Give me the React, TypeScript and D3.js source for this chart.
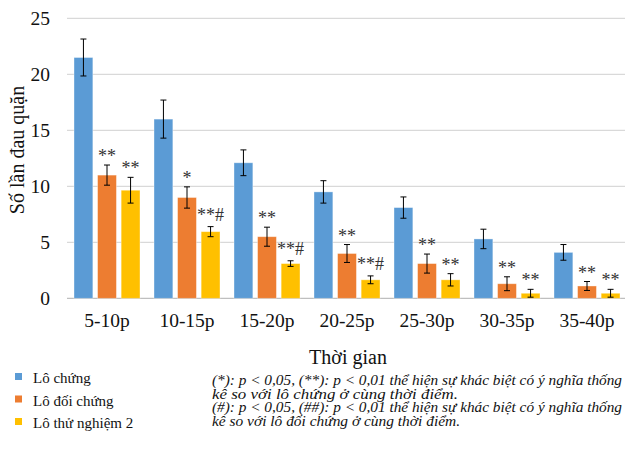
import React, { useEffect, useRef } from 'react';
import * as d3 from 'd3';

const categories = ['5-10p', '10-15p', '15-20p', '20-25p', '25-30p', '30-35p', '35-40p'];
const seriesNames = ['Lô chứng', 'Lô đối chứng', 'Lô thử nghiệm 2'];
const loChung = [21.5, 16.0, 12.1, 9.5, 8.1, 5.3, 4.1];
const loChungErr = [1.65, 1.7, 1.15, 1.0, 0.95, 0.87, 0.7];
const loDoiChung = [11.0, 9.0, 5.5, 4.0, 3.1, 1.3, 1.1];
const loDoiChungErr = [0.9, 0.95, 0.85, 0.8, 0.85, 0.62, 0.4];
const loThuNghiem = [9.65, 5.95, 3.1, 1.65, 1.65, 0.45, 0.45];
const loThuNghiemErr = [1.15, 0.45, 0.25, 0.35, 0.55, 0.35, 0.35];
const doiChungMarks = ['**', '*', '**', '**', '**', '**', '**'];
const thuNghiemMarks = ['**', '**#', '**#', '**#', '**', '**', '**'];
const yTicks = [0, 5, 10, 15, 20, 25];
const notes = [
  '(*): p < 0,05, (**): p < 0,01 thể hiện sự khác biệt có ý nghĩa thống',
  'kê so với lô chứng ở cùng thời điểm.',
  '(#): p < 0,05, (##): p < 0,01 thể hiện sự khác biệt có ý nghĩa thống',
  'kê so với lô đối chứng ở cùng thời điểm.',
];
const noteWidths = [410, 246, 410, 248];

const colors = ['#5b9bd5', '#ed7d31', '#ffc000'];
const serif = 'Liberation Serif, DejaVu Serif, serif';

function App() {
  const chartRef = useRef<SVGSVGElement | null>(null);

  useEffect(() => {
    const svg = d3.select(chartRef.current);
    svg.selectAll('*').remove();

    const values = [loChung, loDoiChung, loThuNghiem];
    const errors = [loChungErr, loDoiChungErr, loThuNghiemErr];
    const marks = [null, doiChungMarks, thuNghiemMarks];

    const x0 = d3.scaleBand()
      .domain(categories)
      .range([67, 627])
      .paddingInner(0.175)
      .paddingOuter(0.0875);

    const x1 = d3.scaleBand()
      .domain(seriesNames)
      .range([0, x0.bandwidth()])
      .paddingInner(0.2);

    const y = d3.scaleLinear().domain([0, 25]).range([298.3, 18.3]);

    // grid
    svg.append('g')
      .selectAll('line')
      .data(yTicks)
      .enter()
      .append('line')
      .attr('x1', 67)
      .attr('x2', 625)
      .attr('y1', d => y(d))
      .attr('y2', d => y(d))
      .attr('stroke', d => (d === 0 ? '#bfbfbf' : '#d9d9d9'))
      .attr('stroke-width', 1.3);

    svg.append('g')
      .selectAll('text')
      .data(yTicks)
      .enter()
      .append('text')
      .attr('x', 50)
      .attr('y', d => y(d) + 7)
      .attr('text-anchor', 'end')
      .attr('font-family', serif)
      .attr('font-size', 19.5)
      .attr('fill', '#111')
      .text(d => d);

    // bars
    seriesNames.forEach((name, s) => {
      const g = svg.append('g');
      categories.forEach((cat, i) => {
        const v = values[s][i];
        const e = errors[s][i];
        const bx = (x0(cat) as number) + (x1(name) as number);
        const bw = x1.bandwidth();
        const cx = bx + bw / 2;
        g.append('rect')
          .attr('x', bx)
          .attr('y', y(v))
          .attr('width', bw)
          .attr('height', y(0) - y(v))
          .attr('fill', colors[s])
          .attr('stroke', 'rgba(255,255,255,0.45)')
          .attr('stroke-width', 0.8);
        g.append('line')
          .attr('x1', cx).attr('x2', cx)
          .attr('y1', y(v + e)).attr('y2', y(Math.max(0, v - e)))
          .attr('stroke', '#000').attr('stroke-width', 1);
        [v + e, Math.max(0, v - e)].forEach(t => {
          g.append('line')
            .attr('x1', cx - 3).attr('x2', cx + 3)
            .attr('y1', y(t)).attr('y2', y(t))
            .attr('stroke', '#000').attr('stroke-width', 1);
        });
        const m = marks[s];
        if (m) {
          g.append('text')
            .attr('x', cx)
            .attr('y', y(v + e) - (m[i].includes('#') ? 6 : 3))
            .attr('text-anchor', 'middle')
            .attr('font-family', serif)
            .attr('font-size', 18)
            .attr('fill', '#333')
            .text(m[i]);
        }
      });
    });

    // x labels
    svg.append('g')
      .selectAll('text')
      .data(categories)
      .enter()
      .append('text')
      .attr('x', d => (x0(d) as number) + x0.bandwidth() / 2)
      .attr('y', 327)
      .attr('text-anchor', 'middle')
      .attr('font-family', serif)
      .attr('font-size', 19.5)
      .attr('fill', '#111')
      .text(d => d);

    svg.append('text')
      .attr('x', 348)
      .attr('y', 364)
      .attr('text-anchor', 'middle')
      .attr('font-family', serif)
      .attr('font-size', 20)
      .attr('fill', '#111')
      .text('Thời gian');

    svg.append('text')
      .attr('transform', 'translate(24,150) rotate(-90)')
      .attr('text-anchor', 'middle')
      .attr('font-family', serif)
      .attr('font-size', 20)
      .attr('fill', '#111')
      .text('Số lần đau quặn');

    // legend
    const legend = svg.append('g')
      .selectAll('g')
      .data(seriesNames)
      .enter()
      .append('g')
      .attr('transform', (d, i) => `translate(15,${373 + i * 22.5})`);
    legend.append('rect')
      .attr('width', 7)
      .attr('height', 7)
      .attr('fill', (d, i) => colors[i]);
    legend.append('text')
      .attr('x', 18)
      .attr('y', 10)
      .attr('font-family', serif)
      .attr('font-size', 15)
      .attr('fill', '#111')
      .text(d => d);

    // notes
    svg.append('g')
      .selectAll('text')
      .data(notes)
      .enter()
      .append('text')
      .attr('x', 212)
      .attr('y', (d, i) => 385 + i * 13.7)
      .attr('font-family', serif)
      .attr('font-size', 14)
      .attr('font-style', 'italic')
      .attr('textLength', (d, i) => noteWidths[i])
      .attr('lengthAdjust', 'spacingAndGlyphs')
      .attr('fill', '#111')
      .text(d => d);
  }, []);

  return (
    <svg
      ref={chartRef}
      width={625}
      height={449}
      style={{ position: 'absolute', left: 0, top: 0, background: '#fff' }}
    />
  );
}

export default App;
